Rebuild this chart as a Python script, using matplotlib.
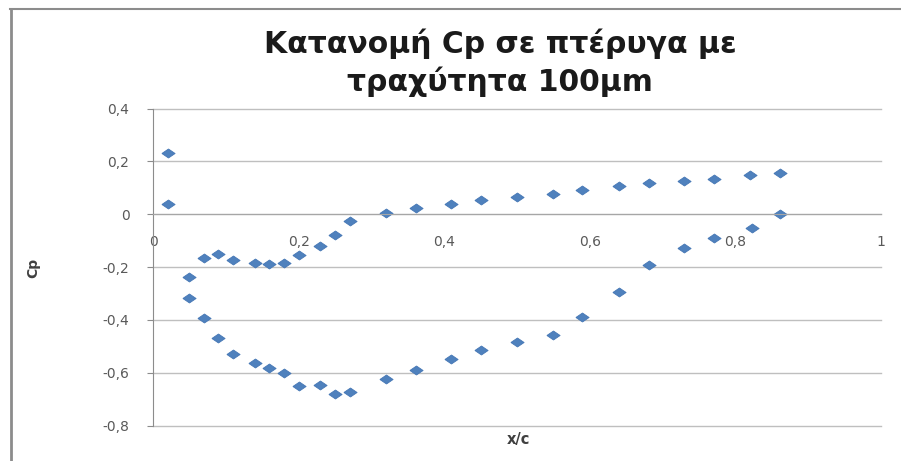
import matplotlib
matplotlib.use("Agg")
import matplotlib.pyplot as plt
from matplotlib.lines import Line2D
from matplotlib.ticker import FuncFormatter

plt.rcParams['font.family'] = ['DejaVu Sans']

# Data
x_upper = [0.021, 0.05, 0.07, 0.089, 0.11, 0.14, 0.159, 0.18, 0.20, 0.23, 0.25, 0.27,
           0.32, 0.361, 0.41, 0.45, 0.50, 0.55, 0.589, 0.64, 0.681, 0.73, 0.77, 0.82, 0.861]
cp_upper = [0.037, -0.238, -0.166, -0.151, -0.173, -0.185, -0.19, -0.185, -0.156, -0.122,
            -0.08, -0.024, 0.003, 0.023, 0.04, 0.052, 0.065, 0.078, 0.093, 0.105, 0.118,
            0.126, 0.132, 0.147, 0.156]
x_lower = [0.021, 0.05, 0.07, 0.089, 0.11, 0.14, 0.159, 0.18, 0.20, 0.23, 0.25, 0.27,
           0.32, 0.361, 0.41, 0.45, 0.50, 0.55, 0.589, 0.64, 0.681, 0.73, 0.77, 0.823, 0.861]
cp_lower = [0.23, -0.318, -0.394, -0.47, -0.529, -0.565, -0.581, -0.60, -0.65, -0.647,
            -0.682, -0.672, -0.625, -0.589, -0.548, -0.514, -0.485, -0.457, -0.39, -0.295,
            -0.194, -0.128, -0.09, -0.051, 0.002]

x_ticks = [0, 0.2, 0.4, 0.6, 0.8, 1.0]
y_ticks = [-0.8, -0.6, -0.4, -0.2, 0, 0.2, 0.4]
title = "Κατανομή Cp σε πτέρυγα με\nτραχύτητα 100μm"

W, H = 901, 461
fig = plt.figure(figsize=(W / 100, H / 100), dpi=100)
ax = fig.add_axes([153 / W, 1 - 425.5 / H, 728 / W, 317 / H])

blue = '#4F81BD'
diamond = [(-1, 0), (0, 0.68), (1, 0), (0, -0.68), (-1, 0)]
for xs, ys in [(x_upper, cp_upper), (x_lower, cp_lower)]:
    ax.plot(xs, ys, linestyle='none', marker=diamond, ms=9.5, mfc=blue,
            mec='#4677B5', mew=0.6)

ax.set_xlim(0, 1)
ax.set_ylim(-0.8, 0.4)
ax.set_xticks(x_ticks)
ax.set_yticks(y_ticks)

def comma(v, pos):
    s = ('%.1f' % v).rstrip('0').rstrip('.')
    if s in ('-0', ''):
        s = '0'
    return s.replace('.', ',')

ax.xaxis.set_major_formatter(FuncFormatter(comma))
ax.yaxis.set_major_formatter(FuncFormatter(comma))

ax.grid(axis='y', color='#BFBFBF', lw=1)
for gl in ax.get_ygridlines():
    gl.set_clip_on(False)
ax.set_axisbelow(True)
for s in ['top', 'right']:
    ax.spines[s].set_visible(False)
ax.spines['left'].set_color('#8C8C8C')
ax.spines['bottom'].set_position(('data', 0))
ax.spines['bottom'].set_color('#A6A6A6')

tick_color = '#595959'
ax.tick_params(axis='y', length=4, color='#8C8C8C', labelsize=10, labelcolor=tick_color, pad=13)
ax.tick_params(axis='x', length=0, labelsize=10, labelcolor=tick_color, pad=15)

fig.text(33 / W, 1 - 268 / H, 'Cp', rotation=90, ha='center', va='center',
         fontsize=10, fontweight='bold', color='#404040')
fig.text(518 / W, 1 - 439 / H, 'x/c', ha='center', va='center',
         fontsize=10.5, fontweight='bold', color='#404040')
fig.text(500 / W, 1 - 63 / H, title, ha='center', va='center', fontsize=21.5,
         fontweight='bold', color='#1A1A1A', linespacing=1.3)

# outer chart frame
fig.add_artist(Line2D([10.5 / W, 10.5 / W], [0, 1 - 9 / H], transform=fig.transFigure,
                      color='#8C8C8C', lw=2))
fig.add_artist(Line2D([10 / W, 1], [1 - 9.5 / H, 1 - 9.5 / H], transform=fig.transFigure,
                      color='#8C8C8C', lw=1.5))

fig.savefig('out.png', dpi=100)
